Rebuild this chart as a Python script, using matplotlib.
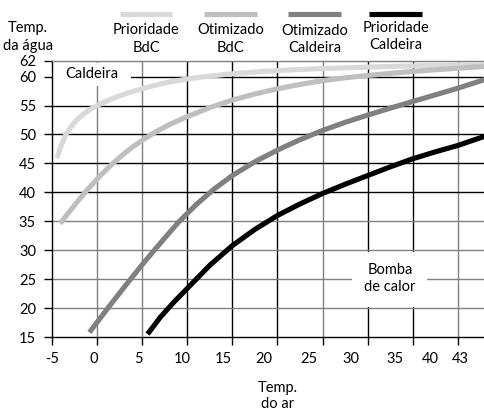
import matplotlib
matplotlib.use('Agg')
import matplotlib.pyplot as plt
from matplotlib.patches import Rectangle

plt.rcParams['font.family'] = ['Lato', 'DejaVu Sans']

# ---- data ----
series_names = ['Prioridade\nBdC', 'Otimizado\nBdC', 'Otimizado\nCaldeira', 'Prioridade\nCaldeira']
series_colors = ['#d9d9d9', '#bfbfbf', '#808080', '#000000']

prio_bdc_x = [-4.45, -4.0, -3.5, -3.0, -2.5, -2.0, -1.5, -1.0, -0.5, 0, 1, 2, 3, 4, 5,
              6.5, 8, 10, 12.5, 15, 17.5, 20, 25, 30, 35, 40, 43]
prio_bdc_y = [45.9, 48.0, 49.9, 51.1, 52.1, 52.9, 53.55, 54.1, 54.6, 55.0, 55.75, 56.4, 56.95, 57.45, 57.9,
              58.55, 59.05, 59.6, 60.1, 60.5, 60.8, 61.05, 61.4, 61.65, 61.85, 62.0, 62.1]

otim_bdc_x = [-4.1, -3, -2, -1, 0, 1, 2, 3, 4, 5, 6.5, 8, 10, 12.5, 15, 17.5, 20,
              22.5, 25, 27.5, 30, 35, 40, 43]
otim_bdc_y = [34.6, 36.8, 38.75, 40.6, 42.3, 43.9, 45.35, 46.7, 47.9, 49.0, 50.45, 51.7, 53.1, 54.65, 55.95, 57.0, 57.9,
              58.65, 59.3, 59.8, 60.2, 60.9, 61.45, 61.75]

otim_cald_x = [-0.85, 1, 3, 5, 7, 9, 11, 13, 15, 17.5, 20, 22.5, 25, 27.5, 30, 32.5, 35, 37.5, 40, 43]
otim_cald_y = [15.8, 19.6, 23.6, 27.5, 31.2, 34.8, 37.9, 40.6, 42.9, 45.3, 47.3, 49.1, 50.7, 52.1, 53.35, 54.55,
               55.7, 56.85, 58.0, 59.5]

prio_cald_x = [5.6, 7, 8.5, 10, 12.5, 15, 17.5, 20, 22.5, 25, 27.5, 30, 32.5, 35, 37.5, 40, 43]
prio_cald_y = [15.5, 18.4, 21.0, 23.4, 27.4, 30.8, 33.6, 36.0, 38.0, 39.8, 41.4, 42.9, 44.4, 45.8, 47.0, 48.1, 49.7]

x_grid = [0, 5, 10, 15, 20, 25, 30, 35, 40]
x_grid_colors = ['#808080', '#808080', 'k', 'k', 'k', '#808080', 'k', 'k', '#808080']
y_grid = [20, 25, 30, 35, 40, 45, 50, 55, 60]
y_grid_colors = ['#808080', '#808080', '#808080', '#808080', 'k', 'k', 'k', 'k', 'k']

x_tick_labels = ['-5', '0', '5', '10', '15', '20', '25', '30', '35', '40', '43']
x_tick_label_pos = [-5, -0.34, 4.53, 9.41, 13.95, 18.5, 23.49, 28.14, 33.02, 36.9, 40.22]
y_tick_labels = ['15', '20', '25', '30', '35', '40', '45', '50', '55', '60', '62']

X_MIN, X_MAX = -5, 42.9
Y_MIN, Y_MAX = 15, 62.7
FS = 10.5

# ---- figure ----
W, H = 484, 415
fig = plt.figure(figsize=(W / 100, H / 100), dpi=100)
ax = fig.add_axes([52 / W, (H - 337) / H, (484 - 52) / W, (337 - 61) / H])
ax.set_xlim(X_MIN, X_MAX)
ax.set_ylim(Y_MIN, Y_MAX)

ax.spines['right'].set_visible(False)
ax.spines['left'].set_color('k')
ax.spines['bottom'].set_color('k')
ax.spines['top'].set_color('#808080')
for s in ['left', 'bottom', 'top']:
    ax.spines[s].set_linewidth(1.0)

for xv, c in zip(x_grid, x_grid_colors):
    ax.axvline(xv, color=c, lw=1.0, zorder=1)
for yv, c in zip(y_grid, y_grid_colors):
    ax.axhline(yv, color=c, lw=1.0, zorder=1)

# x ticks: marks at grid, labels at their own positions
ax.xaxis.remove_overlapping_locs = False
ax.set_xticks([X_MIN] + x_grid)
ax.set_xticklabels([])
ax.tick_params(axis='x', which='major', direction='out', length=5.5, width=1.0)
for t, c in zip(ax.xaxis.get_major_ticks(), ['k'] + x_grid_colors):
    t.tick1line.set_color(c)
ax.set_xticks(x_tick_label_pos, minor=True)
ax.set_xticklabels(x_tick_labels, minor=True)
ax.tick_params(axis='x', which='minor', length=0, pad=11, labelsize=FS)

y_tick_pos = [Y_MIN] + y_grid + [Y_MAX]
ax.set_yticks(y_tick_pos)
ax.set_yticklabels(y_tick_labels)
ax.tick_params(axis='y', direction='out', length=5.5, width=1.0, pad=6, labelsize=FS)
for t, c in zip(ax.yaxis.get_major_ticks(), ['k'] + y_grid_colors + ['#808080']):
    t.tick1line.set_color(c)

# curves
xs = [prio_bdc_x, otim_bdc_x, otim_cald_x, prio_cald_x]
ys = [prio_bdc_y, otim_bdc_y, otim_cald_y, prio_cald_y]
for x, y, c in zip(xs, ys, series_colors):
    ax.plot(x, y, color=c, lw=3.7, solid_capstyle='butt', solid_joinstyle='round', zorder=3)

# label boxes
def ax_frac(px, py):
    return (px - 52) / 432, (337 - py) / 276

x0, y1 = ax_frac(52, 63)
x1, y0 = ax_frac(131, 86)
ax.add_patch(Rectangle((x0, y0), x1 - x0, y1 - y0, transform=ax.transAxes,
                       facecolor='white', edgecolor='none', zorder=1.5))
cx, cy = ax_frac(92, 74.5)
ax.text(cx, cy, 'Caldeira', transform=ax.transAxes, ha='center', va='center',
        fontsize=FS, zorder=4)

x0, y1 = ax_frac(352, 252)
x1, y0 = ax_frac(427, 307)
ax.add_patch(Rectangle((x0, y0), x1 - x0, y1 - y0, transform=ax.transAxes,
                       facecolor='white', edgecolor='none', zorder=1.5))
cx, cy = ax_frac(390, 278.5)
ax.text(cx, cy, 'Bomba\nde calor', transform=ax.transAxes, ha='center', va='center',
        fontsize=FS, linespacing=1.3, zorder=4)

# legend (manual, line sample above two-line label)
legend_line_x = [(120, 172), (204, 257), (288, 341), (369, 422)]
legend_text_y = [39, 39, 39.5, 36.5]
for name, c, (xa, xb), ty in zip(series_names, series_colors, legend_line_x, legend_text_y):
    fig.add_artist(plt.Line2D([xa / W, xb / W], [1 - 14 / H, 1 - 14 / H], color=c, lw=3.7,
                              solid_capstyle='butt', transform=fig.transFigure))
    fig.text((xa + xb) / 2 / W, 1 - ty / H, name, ha='center', va='center', fontsize=FS,
             linespacing=1.3)

fig.text(28 / W, 1 - 37 / H, 'Temp.\nda água', ha='center', va='center', fontsize=FS, linespacing=1.3)
fig.text(278 / W, 1 - 396 / H, 'Temp.\ndo ar', ha='center', va='center', fontsize=FS, linespacing=1.2)

fig.savefig('out.png', dpi=100)
